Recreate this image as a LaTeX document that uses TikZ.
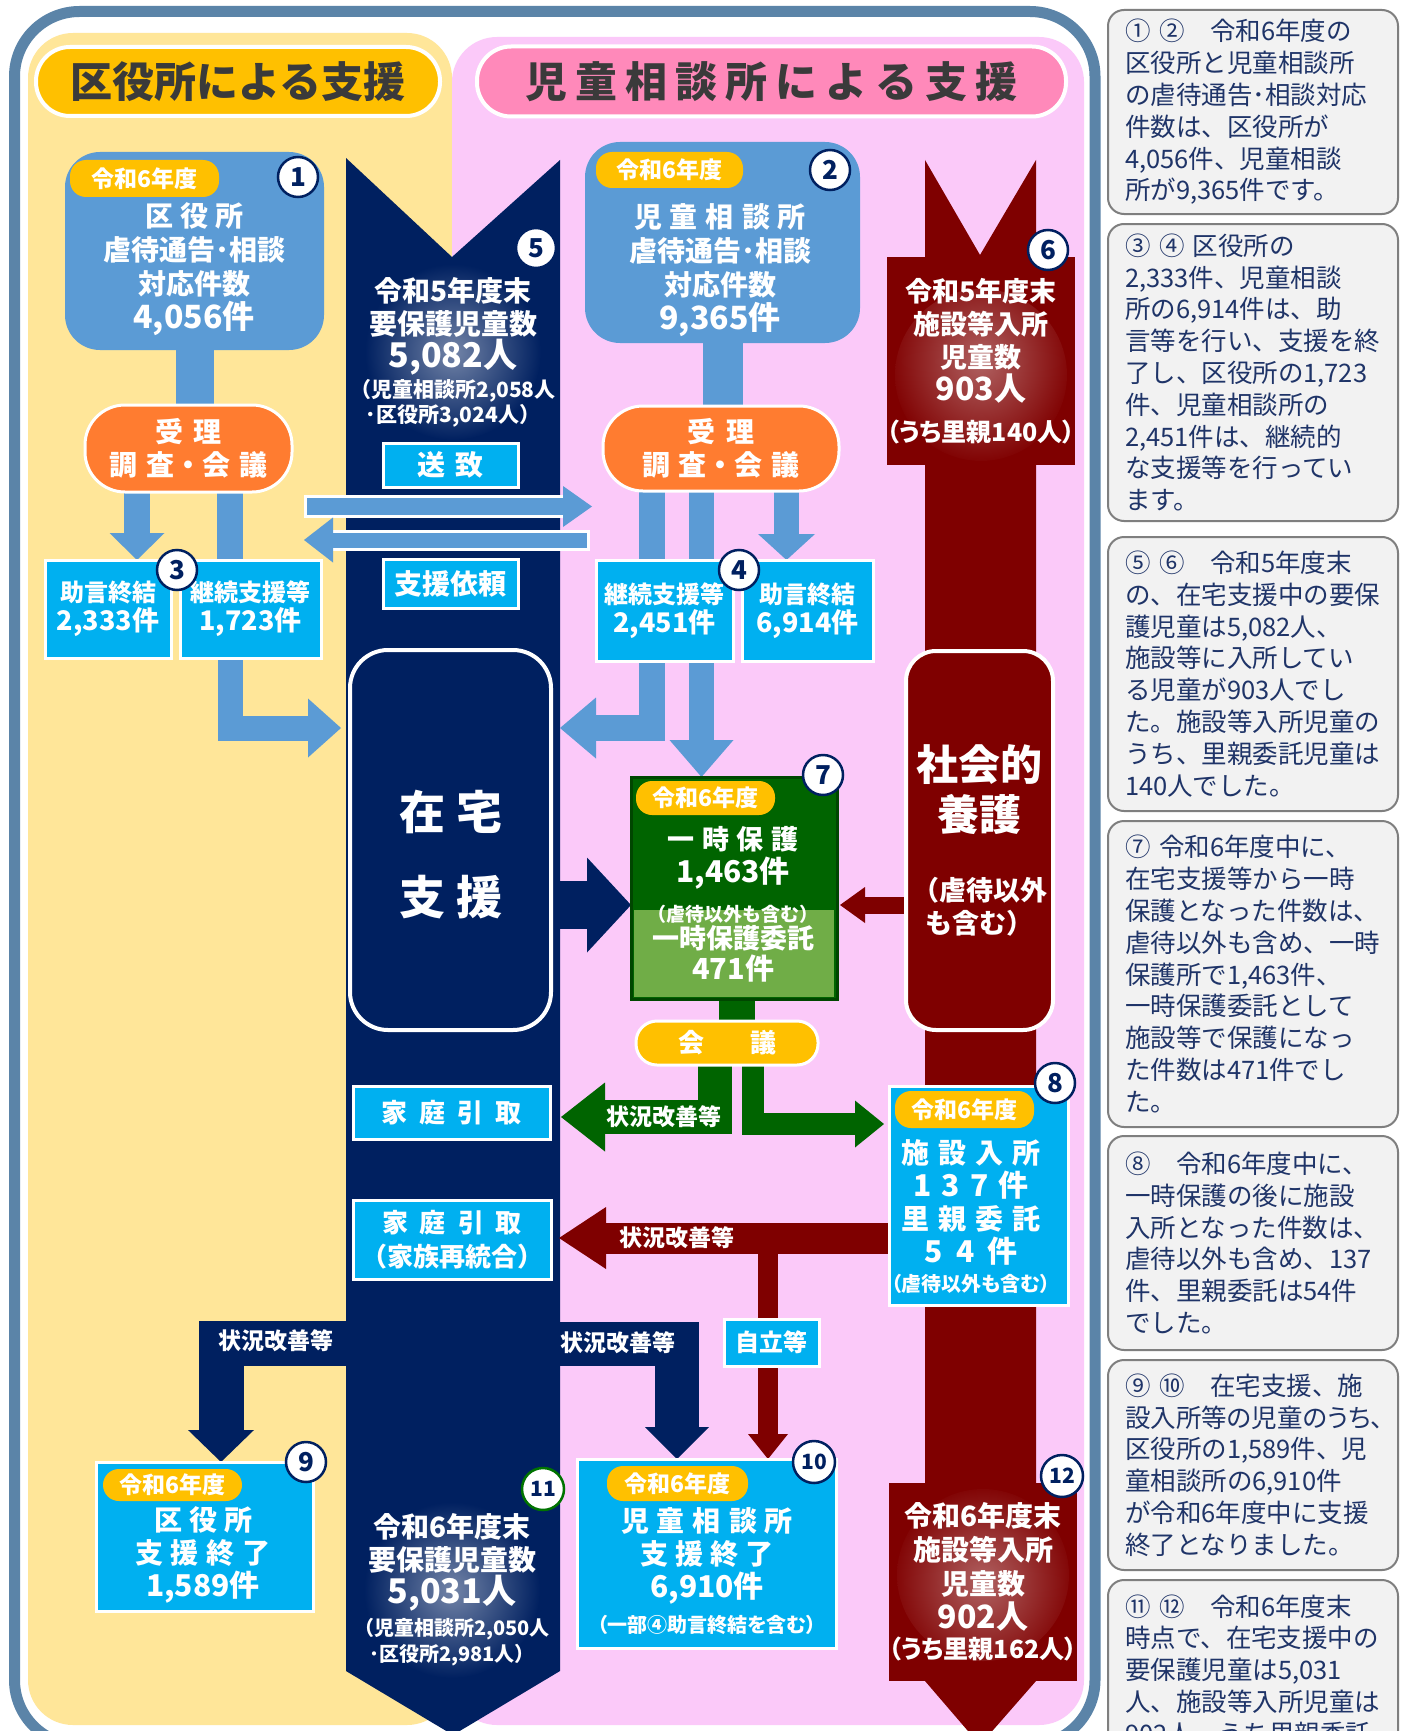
\documentclass[tikz,border=0pt]{standalone}
\usepackage{fontspec}
\setmainfont{Noto Sans CJK JP}
\usetikzlibrary{arrows.meta}
\definecolor{frameblue}{HTML}{5B84A8}
\definecolor{ylwbg}{HTML}{FFE699}
\definecolor{pinkbg}{HTML}{FBC9F9}
\definecolor{gold}{HTML}{FFC000}
\definecolor{titlepink}{HTML}{FF89BA}
\definecolor{boxblue}{HTML}{5B9BD5}
\definecolor{orng}{HTML}{FF7C30}
\definecolor{cyanbx}{HTML}{00B0F0}
\definecolor{navy}{HTML}{002060}
\definecolor{dred}{HTML}{7F0000}
\definecolor{dgreen}{HTML}{006400}
\definecolor{lgreen}{HTML}{70AD47}
\definecolor{panelfill}{HTML}{F2F2F2}
\definecolor{panelline}{HTML}{7F7F7F}
\definecolor{paneltext}{HTML}{1F3468}
\definecolor{titletext}{HTML}{3A3A3A}
\newcommand\fsz[2]{\fontsize{#1pt}{#2pt}\selectfont}
\newcommand\gapx[1]{\hspace{#1pt}}
\newcommand\paltx{\addfontfeatures{RawFeature=+palt}}
\pgfdeclarelayer{back}
\pgfdeclarelayer{flow}
\pgfsetlayers{back,flow,main}
\begin{document}
\begin{tikzpicture}[x=1pt,y=-1pt,
  every node/.style={inner sep=0pt,outer sep=0pt},
  wt/.style={text=white,font=\bfseries\fsz{28}{34},align=center},
  bluebox/.style={fill=boxblue,rounded corners=35pt},
  opill/.style={fill=orng,draw=white,line width=3pt,rounded corners=40pt,text=white,font=\bfseries\fsz{28}{33},align=center},
  cbox/.style={fill=cyanbx,draw=white,line width=3pt,text=white,font=\bfseries\fsz{24}{29},align=center},
  badge/.style={fill=gold,rounded corners=16pt,text=white,font=\bfseries\fsz{23}{26}},
  numc/.style={circle,draw=navy,line width=2.5pt,fill=white,minimum size=40pt,text=navy,font=\bfseries\fsz{26}{26}},
  numcc/.style={numc,minimum size=42pt,font=\bfseries\fsz{21}{21}},
  lbl/.style={text=white,font=\bfseries\fsz{23}{26}},
  panel/.style={draw=panelline,line width=2pt,fill=panelfill,rounded corners=16pt,minimum width=290pt,text width=256pt,align=left,text=paneltext,font=\fsz{25.5}{31.8}}
]
\useasboundingbox (0,0) rectangle (1408,1731);
\begin{pgfonlayer}{back}
\fill[white] (0,0) rectangle (1408,1731);
\draw[frameblue,line width=11pt,rounded corners=65pt] (14.5,11.5) rectangle (1095,1745);
\fill[ylwbg,rounded corners=45pt] (28,33) rectangle (452,1725);
\fill[pinkbg,rounded corners=45pt] (452,37) rectangle (1084,1725);
\fill[navy] (346,158) -- (452,257) -- (560,160) -- (560,1671) -- (453,1735) -- (346,1671) -- cycle;
\shade[inner color=navy!55!white,outer color=navy] (453,352) circle (88pt);
\shade[inner color=navy!55!white,outer color=navy] (452,1590) circle (88pt);
\fill[dred] (925,160) -- (980,255) -- (1036,160) -- (1036,1681) -- (980,1745) -- (925,1681) -- cycle;
\end{pgfonlayer}

% titles
\node[fill=gold,draw=white,line width=4pt,rounded corners=34pt,minimum width=404pt,minimum height=69pt,text=titletext,font=\bfseries\fsz{42}{48}] (titleK) at (238,81.5) {区役所による支援};
\node[fill=titlepink,draw=white,line width=4pt,rounded corners=34pt,minimum width=589pt,minimum height=70pt,text=titletext,font=\bfseries\fsz{42}{48}] (titleJ) at (771.5,81.5) {児\gapx{8}童\gapx{8}相\gapx{8}談\gapx{8}所\gapx{8}に\gapx{8}よ\gapx{8}る\gapx{8}支\gapx{8}援};

% ward office side
\node[bluebox,minimum width=259pt,minimum height=198pt] (box1) at (194.5,251) {};
\node[opill,minimum width=207pt,minimum height=87pt] (pill1) at (188.5,448.5) {受\gapx{11}理\\調\gapx{9}査・会\gapx{9}議};
\node[cbox,minimum width=126pt,minimum height=98pt] (j1) at (108,609) {助言終結\\{\fsz{27}{29}2,333件}};
\node[cbox,minimum width=141pt,minimum height=98pt] (k1) at (250.5,609) {継続支援等\\{\fsz{27}{29}1,723件}};

% child guidance side
\node[bluebox,minimum width=275pt,minimum height=201pt] (box2) at (722.5,242.5) {};
\node[opill,minimum width=236pt,minimum height=85pt] (pill2) at (721,448.5) {受\gapx{11}理\\調\gapx{9}査・会\gapx{9}議};
\node[cbox,minimum width=137pt,minimum height=101pt] (k2) at (664.5,610.5) {継続支援等\\{\fsz{27}{29}2,451件}};
\node[cbox,minimum width=131pt,minimum height=101pt] (j2) at (807.5,610.5) {助言終結\\{\fsz{27}{29}6,914件}};

% home support column
\node[cbox,minimum width=135pt,minimum height=44pt,font=\bfseries\fsz{28}{30}] (soutchi) at (450.5,465) {送\gapx{11}致};
\node[cbox,minimum width=135pt,minimum height=49pt,font=\bfseries\fsz{28}{30}] (shien) at (450.5,583.5) {支援依頼};
\node[fill=navy,draw=white,line width=4pt,rounded corners=38pt,minimum width=201pt,minimum height=380pt] (zaitaku) at (450.5,840) {};
\node[cbox,minimum width=197pt,minimum height=53pt,font=\bfseries\fsz{26}{30}] (katei1) at (451.5,1112.5) {家\gapx{12}庭\gapx{12}引\gapx{12}取};
\node[cbox,minimum width=198pt,minimum height=79pt,font=\bfseries\fsz{26}{34}] (katei2) at (452,1239.5) {家\gapx{12}庭\gapx{12}引\gapx{12}取\\（家族再統合）};

% temporary protection
\node[fill=dgreen,draw=dgreen!70!black,line width=3pt,minimum width=206pt,minimum height=222pt,
  path picture={\fill[lgreen] ([xshift=3pt,yshift=2pt]path picture bounding box.south west) rectangle ([xshift=-3pt,yshift=89pt]path picture bounding box.south east);}] (ichiji) at (734,888) {};
\node[fill=gold,draw=white,line width=3pt,rounded corners=21pt,minimum width=182pt,minimum height=44pt,text=white,font=\bfseries\fsz{26}{30}] (kaigi) at (727,1043) {会\gapx{46}議};

% social care column
\node[fill=dred,minimum width=188pt,minimum height=208pt,wt,font=\bfseries\fsz{27}{33},
  path picture={\shade[inner color=dred!62!white,outer color=dred] ([yshift=-14pt]path picture bounding box.center) circle (86pt);}] (box6) at (981,361)
  {令和5年度末\\施設等入所\\児童数\\{\fsz{32}{33}903人}\\[8pt]{\paltx\fsz{25}{30}（うち里親140人）}};
\node[fill=dred,draw=white,line width=4pt,rounded corners=30pt,minimum width=147pt,minimum height=379pt,wt,font=\bfseries\fsz{42}{50}] (shakai) at (979.5,840.5)
  {社会的\\養護\\[20pt]{\fsz{27}{33}（虐待以外}\\[-17pt]{\fsz{27}{33}も含む）}};
\node[cbox,minimum width=179pt,minimum height=219pt] (box8) at (978.5,1195.5) {};
\node[cbox,minimum width=95pt,minimum height=47pt,font=\bfseries\fsz{24}{28}] (jiritsu) at (771.5,1342.5) {自立等};
\node[fill=dred,minimum width=188pt,minimum height=198pt,wt,font=\bfseries\fsz{28}{34},
  path picture={\shade[inner color=dred!62!white,outer color=dred] ([yshift=7pt]path picture bounding box.center) circle (86pt);}] (box12) at (983,1582)
  {令和6年度末\\施設等入所\\児童数\\{\fsz{32}{34}902人}\\[-4pt]{\paltx\fsz{25}{30}（うち里親162人）}};

% end of support
\node[cbox,minimum width=217pt,minimum height=149pt] (box9) at (204.5,1536.5) {};
\node[cbox,minimum width=259pt,minimum height=189pt] (box10) at (706.5,1553.5) {};

% texts inside boxes
\node[wt] (box1T) at (194,269) {区\gapx{7}役\gapx{7}所\\虐待通告･相談\\対応件数\\{\fsz{32}{34}4,056件}};
\node[wt] (box2T) at (720,270) {児\gapx{8}童\gapx{8}相\gapx{8}談\gapx{8}所\\虐待通告･相談\\対応件数\\{\fsz{32}{34}9,365件}};
\node[wt,font=\bfseries\fsz{28}{33}] (t5) at (453,352) {令和5年度末\\要保護児童数\\{\fsz{34}{36}5,082人}\\[-3pt]{\fsz{21}{25}（児童相談所2,058人}\\[-8pt]{\fsz{21}{25}･区役所3,024人）}};
\node[wt,font=\bfseries\fsz{46}{85}] (zaitakuT) at (451,855) {在\gapx{12}宅\\支\gapx{12}援};
\node[wt,font=\bfseries\fsz{27}{33}] (ichijiT) at (733,904) {一\gapx{8}時\gapx{8}保\gapx{8}護\\{\fsz{30}{33}1,463件}\\[6pt]{\fsz{19}{24}（虐待以外も含む）}\\[-6pt]一時保護委託\\[-2pt]{\fsz{29}{33}471件}};
\node[wt,font=\bfseries\fsz{28}{33}] (box8T) at (971,1217) {施\gapx{9}設\gapx{9}入\gapx{9}所\\{\fsz{30}{33}1\gapx{10}3\gapx{10}7\gapx{10}件}\\里\gapx{9}親\gapx{9}委\gapx{9}託\\{\fsz{30}{33}5\gapx{13}4\gapx{13}件}\\[-4pt]{\paltx\fsz{20}{24}（虐待以外も含む）}};
\node[wt,font=\bfseries\fsz{28}{33}] (box9T) at (203,1555) {区\gapx{7}役\gapx{7}所\\支\gapx{8}援\gapx{8}終\gapx{8}了\\{\fsz{30}{33}1,589件}};
\node[wt,font=\bfseries\fsz{28}{33}] (box10T) at (707,1571) {児\gapx{8}童\gapx{8}相\gapx{8}談\gapx{8}所\\支\gapx{7}援\gapx{7}終\gapx{7}了\\{\fsz{30}{33}6,910件}\\[2pt]{\paltx\fsz{20}{24}（一部④助言終結を含む）}};
\node[wt,font=\bfseries\fsz{28}{33}] (t11) at (452,1590) {令和6年度末\\要保護児童数\\{\fsz{34}{36}5,031人}\\[-1pt]{\fsz{20}{24}（児童相談所2,050人}\\[-7pt]{\fsz{20}{24}･区役所2,981人）}};

% badges
\node[badge,minimum width=149pt,minimum height=37pt] (bd1) at (144.5,178.5) {令和6年度};
\node[badge,minimum width=147pt,minimum height=36pt] (bd2) at (669.5,170) {令和6年度};
\node[badge,minimum width=139pt,minimum height=34pt] (bd7) at (705.5,798) {令和6年度};
\node[badge,minimum width=139pt,minimum height=37pt] (bd8) at (964.5,1109.5) {令和6年度};
\node[badge,minimum width=139pt,minimum height=32pt] (bd9) at (172.5,1485) {令和6年度};
\node[badge,minimum width=141pt,minimum height=35pt] (bd10) at (677.5,1483.5) {令和6年度};

% flow labels
\node[lbl] (lblG) at (664,1117) {状況改善等};
\node[lbl] (lblR) at (677,1238) {状況改善等};
\node[lbl] (lblN9) at (276,1341) {状況改善等};
\node[lbl] (lblN10) at (618,1343) {状況改善等};

% number circles
\node[numc] (n1) at (298,177) {1};
\node[numc] (n2) at (830,170) {2};
\node[numc] (n3) at (177,570) {3};
\node[numc] (n4) at (739,570) {4};
\node[numc] (n5) at (536,248) {5};
\node[numc] (n6) at (1048,250) {6};
\node[numc] (n7) at (823,775) {7};
\node[numc] (n8) at (1055,1083) {8};
\node[numc] (n9) at (306,1462) {9};
\node[numcc] (n10) at (814,1462) {10};
\node[numcc,draw=green!45!black] (n11) at (543,1489) {11};
\node[numcc] (n12) at (1062,1476) {12};

% explanation panel
\node[panel,minimum height=204pt] (pA) at (1253,112) {① ②　令和6年度の\\区役所と児童相談所\\の虐待通告･相談対応\\件数は、区役所が\\4,056件、児童相談\\所が9,365件です。};
\node[panel,minimum height=297pt] (pB) at (1253,372.5) {③ ④ 区役所の\\2,333件、児童相談\\所の6,914件は、助\\言等を行い、支援を終\\了し、区役所の1,723\\件、児童相談所の\\2,451件は、継続的\\な支援等を行ってい\\ます。};
\node[panel,minimum height=274pt] (pC) at (1253,674) {⑤ ⑥　令和5年度末\\の、在宅支援中の要保\\護児童は5,082人、\\施設等に入所してい\\る児童が903人でし\\た。施設等入所児童の\\うち、里親委託児童は\\140人でした。};
\node[panel,minimum height=306pt] (pD) at (1253,974) {⑦ 令和6年度中に、\\在宅支援等から一時\\保護となった件数は、\\虐待以外も含め、一時\\保護所で1,463件、\\一時保護委託として\\施設等で保護になっ\\た件数は471件でし\\た。};
\node[panel,minimum height=214pt] (pE) at (1253,1243) {⑧　令和6年度中に、\\一時保護の後に施設\\入所となった件数は、\\虐待以外も含め、137\\件、里親委託は54件\\でした。};
\node[panel,minimum height=210pt] (pF) at (1253,1465) {⑨ ⑩　在宅支援、施\\{\paltx 設入所等の児童のうち、}\\区役所の1,589件、児\\童相談所の6,910件\\が令和6年度中に支援\\終了となりました。};
\node[panel,minimum height=180pt] (pG) at (1253,1670) {⑪ ⑫　令和6年度末\\時点で、在宅支援中の\\要保護児童は5,031\\人、施設等入所児童は\\902人、うち里親委託};

% connectors
\coordinate (soL) at (307,506.5);
\coordinate (soR) at (592,506.5);
\coordinate (siR) at (587,540);
\coordinate (siL) at (304,540);
\coordinate (navL) at (352,1343.5);
\coordinate (navR) at (555,1343.5);
\begin{pgfonlayer}{flow}
\draw[boxblue,line width=38pt] (box1.south) -- (box1.south |- pill1.north);
\draw[boxblue,line width=40pt] (box2.south) -- (box2.south |- pill2.north);
\draw[boxblue,line width=26pt,-{Triangle[width=55pt,length=27pt,line width=0pt]}] ([xshift=-51.5pt]pill1.south) -- ([xshift=29pt]j1.north);
\draw[boxblue,line width=26pt] ([xshift=41.5pt]pill1.south) -- ([xshift=-20.5pt]k1.north);
\draw[boxblue,line width=25pt,-{Triangle[width=59pt,length=33pt,line width=0pt]}] ([xshift=-20.5pt]k1.south) |- ([xshift=-9pt,yshift=112pt]zaitaku.west);
\draw[boxblue,line width=26pt] ([xshift=-69pt]pill2.south) -- ([xshift=-12.5pt]k2.north);
\draw[boxblue,line width=25pt] ([xshift=-19.5pt]pill2.south) -- ([xshift=37pt]k2.north);
\draw[boxblue,line width=25pt,-{Triangle[width=57pt,length=26pt,line width=0pt]}] ([xshift=65.5pt]pill2.south) -- ([xshift=-21pt]j2.north);
\draw[boxblue,line width=26pt,-{Triangle[width=61pt,length=36pt,line width=0pt]}] ([xshift=-12.5pt]k2.south) |- ([xshift=9pt,yshift=112pt]zaitaku.east);
\draw[boxblue,line width=25pt,-{Triangle[width=64pt,length=37pt,line width=0pt]}] ([xshift=37pt]k2.south) -- ([xshift=-32.5pt]ichiji.north);
\draw[boxblue,line width=17pt,preaction={draw=white,line width=23pt,-,shorten >=18pt,shorten <=-3pt},-{Triangle[width=41pt,length=29pt,line width=0pt]}] (soL) -- (soR);
\draw[boxblue,line width=15pt,preaction={draw=white,line width=21pt,-,shorten >=18pt,shorten <=-3pt},-{Triangle[width=45pt,length=29pt,line width=0pt]}] (siR) -- (siL);
\draw[navy,line width=48pt,-{Triangle[width=95pt,length=44pt,line width=0pt]}] ([yshift=-65pt]zaitaku.east) -- ([yshift=-17pt]ichiji.west);
\draw[dred,line width=17pt,-{Triangle[width=36pt,length=25pt,line width=0pt]}] ([yshift=-64.5pt]shakai.west) -- ([xshift=3pt,yshift=-17pt]ichiji.east);
\draw[dgreen,line width=36pt] ([xshift=3pt]ichiji.south) -- ([xshift=10pt]kaigi.north);
\draw[dgreen,line width=34pt,-{Triangle[width=69pt,length=44pt,line width=0pt]}] ([xshift=-12pt]kaigi.south) |- ([xshift=11pt,yshift=-4.5pt]katei1.east);
\draw[dgreen,line width=22pt,-{Triangle[width=47pt,length=29pt,line width=0pt]}] ([xshift=26pt]kaigi.south) |- ([xshift=-5pt,yshift=71.5pt]box8.west);
\draw[dred,line width=31pt,-{Triangle[width=62pt,length=47pt,line width=0pt]}] ([yshift=-42.5pt]box8.west) -- ([xshift=8pt,yshift=1.5pt]katei2.east);
\draw[dred,line width=20pt,-{Triangle[width=40pt,length=25pt,line width=0pt]}] ([yshift=-42.5pt]box8.west) -| ([xshift=61.5pt]box10.north);
\draw[navy,line width=45pt,-{Triangle[width=66pt,length=32pt,line width=0pt]}] (navL) -| ([xshift=16.5pt]box9.north);
\draw[navy,line width=44pt,-{Triangle[width=64pt,length=32pt,line width=0pt]}] (navR) -| ([xshift=-29.5pt]box10.north);
\end{pgfonlayer}
\end{tikzpicture}
\end{document}
